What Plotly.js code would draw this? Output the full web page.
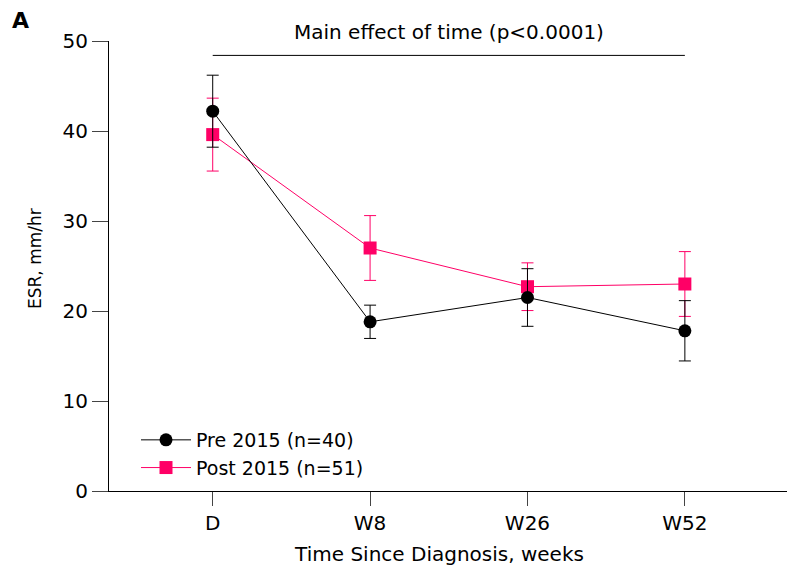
<!DOCTYPE html>
<html>
<head>
<meta charset="utf-8">
<script src="https://cdn.plot.ly/plotly-3.0.1.min.js"></script>
<style>html,body{margin:0;padding:0;background:#fff;}#chart{width:787px;height:570px;}</style>
</head>
<body>
<div id="chart"></div>
<script>
const categories = ["D", "W8", "W26", "W52"];
const preName = "Pre 2015 (n=40)";
const preMean = [42.2, 18.8, 21.5, 17.8];
const preErr = [4.0, 1.85, 3.2, 3.35];
const postName = "Post 2015 (n=51)";
const postMean = [39.6, 27.0, 22.7, 23.0];
const postErr = [4.05, 3.6, 2.65, 3.6];
const yTicks = [0, 10, 20, 30, 40, 50];
const sigText = "Main effect of time (p&lt;0.0001)";
const xTitle = "Time Since Diagnosis, weeks";
const yTitle = "ESR, mm/hr";
const panelLabel = "A";

const BLACK = "#000000";
const PINK = "#FF0066";
const FONT = "DejaVu Sans, Verdana, sans-serif";

const post = {
  x: categories, y: postMean, name: postName, type: "scatter", mode: "lines+markers",
  line: {color: PINK, width: 1},
  marker: {symbol: "square", size: 13, color: PINK},
  error_y: {type: "data", array: postErr, visible: true, color: PINK, thickness: 1, width: 6},
  cliponaxis: false
};
const pre = {
  x: categories, y: preMean, name: preName, type: "scatter", mode: "lines+markers",
  line: {color: BLACK, width: 1},
  marker: {symbol: "circle", size: 13, color: BLACK},
  error_y: {type: "data", array: preErr, visible: true, color: BLACK, thickness: 1, width: 6},
  cliponaxis: false
};

const L = 92, T = 41, plotW = 787 - 92, plotH = 450;
const px2x = p => (p - L) / plotW;
const px2y = p => (T + plotH - p) / plotH;

const layout = {
  width: 787, height: 570,
  margin: {l: L, r: 0, t: T, b: 79},
  paper_bgcolor: "#fff", plot_bgcolor: "#fff",
  font: {family: FONT, size: 20, color: "#000"},
  showlegend: true,
  legend: {
    traceorder: "reversed", x: px2x(136), y: px2y(421), xanchor: "left", yanchor: "top",
    font: {family: FONT, size: 19, color: "#000"}, bgcolor: "rgba(0,0,0,0)",
    itemwidth: 50, tracegroupgap: 0
  },
  xaxis: {
    type: "category", range: [-0.767, 3.649], showgrid: false, zeroline: false,
    showline: true, linecolor: "#000", linewidth: 1,
    ticks: "outside", ticklen: 14, tickwidth: 1, tickcolor: "#444",
    tickfont: {family: FONT, size: 20, color: "#000"},
    title: {text: xTitle, font: {family: FONT, size: 20, color: "#000"}, standoff: 12}
  },
  yaxis: {
    range: [0, 50], tickvals: yTicks, showgrid: false, zeroline: false,
    showline: true, linecolor: "#000", linewidth: 1,
    anchor: "free", position: 16 / plotW,
    ticks: "outside", ticklen: 16, tickwidth: 1, tickcolor: "#444",
    tickfont: {family: FONT, size: 20, color: "#000"}
  },
  shapes: [{
    type: "line", xref: "x", yref: "y", x0: 0, x1: categories.length - 1, y0: 48.4, y1: 48.4,
    line: {color: "#000", width: 1}
  }],
  annotations: [
    {text: sigText, xref: "x", yref: "paper", x: (categories.length - 1) / 2, y: px2y(32),
     xanchor: "center", yanchor: "middle", showarrow: false,
     font: {family: FONT, size: 20, color: "#000"}},
    {text: yTitle, xref: "paper", yref: "paper", x: px2x(35), y: px2y(258), textangle: -90,
     xanchor: "center", yanchor: "middle", showarrow: false,
     font: {family: FONT, size: 17, color: "#000"}},
    {text: "<b>" + panelLabel + "</b>", xref: "paper", yref: "paper", x: px2x(10), y: px2y(20),
     xanchor: "left", yanchor: "middle", showarrow: false,
     font: {family: FONT, size: 22, color: "#000"}}
  ]
};

Plotly.newPlot("chart", [post, pre], layout, {displayModeBar: false, staticPlot: true});
</script>
</body>
</html>
